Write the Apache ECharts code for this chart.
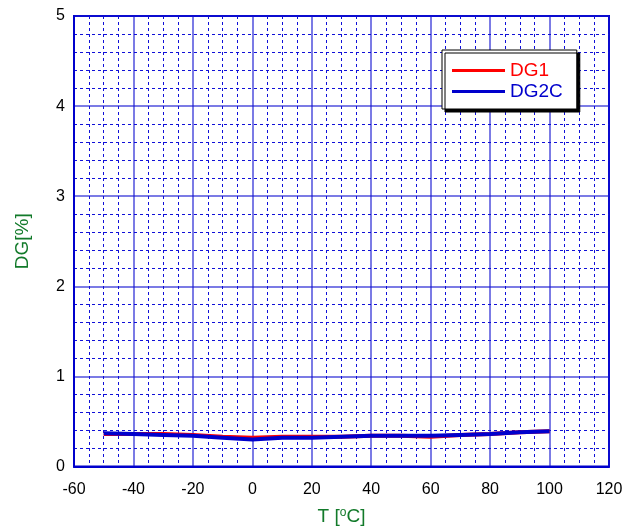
<!DOCTYPE html>
<html>
<head>
<meta charset="utf-8">
<script src="https://cdn.jsdelivr.net/npm/echarts@6/dist/echarts.min.js"></script>
<style>
html,body{margin:0;padding:0;background:#fff;}
#chart{width:628px;height:531px;}
</style>
</head>
<body>
<div id="chart"></div>
<script>
var temps = [-50, -40, -30, -20, -10, 0, 10, 20, 30, 40, 50, 60, 70, 80, 90, 100];
var dg1  = [0.36, 0.36, 0.36, 0.35, 0.33, 0.32, 0.33, 0.33, 0.33, 0.34, 0.34, 0.33, 0.35, 0.36, 0.38, 0.39];
var dg2c = [0.37, 0.36, 0.35, 0.34, 0.32, 0.30, 0.32, 0.32, 0.33, 0.34, 0.34, 0.34, 0.35, 0.36, 0.38, 0.39];
var seriesNames = ['DG1', 'DG2C'];

function pairs(xs, ys){ return xs.map(function(x,i){ return [x, ys[i]]; }); }

var font = 'Liberation Sans, Arial, sans-serif';
var majorColor = 'rgba(20,20,210,0.75)';
var minorColor = '#1010d8';

var chart = echarts.init(document.getElementById('chart'), null, {renderer:'canvas'});
chart.setOption({
  animation: false,
  backgroundColor: '#fff',
  grid: {left: 74, right: 19, top: 16, bottom: 62, show: true, borderColor: '#0000cc', borderWidth: 2, backgroundColor: '#fff'},
  legend: {
    left: 442, top: 50, orient: 'vertical',
    backgroundColor: '#fff', borderColor: '#000', borderWidth: 1,
    shadowColor: '#000', shadowOffsetX: 3, shadowOffsetY: 3, shadowBlur: 0,
    padding: [11, 14, 8, 10], itemGap: 2, itemWidth: 53, itemHeight: 3,
    textStyle: {fontFamily: font, fontSize: 19},
    data: [
      {name: seriesNames[0], icon: 'rect', textStyle: {color: '#ff0000'}},
      {name: seriesNames[1], icon: 'rect', textStyle: {color: '#0000cc'}}
    ]
  },
  xAxis: {
    type: 'value', min: -60, max: 120, interval: 20,
    name: 'T [{sup|o}C]', nameLocation: 'middle', nameGap: 40,
    nameTextStyle: {color: '#127a2a', fontFamily: font, fontSize: 19,
      rich: {sup: {fontSize: 12, color: '#127a2a', fontFamily: font, padding: [0, 0, 8, 0]}}},
    axisLine: {show: true, onZero: false, lineStyle: {color: '#0000cc', width: 2}},
    axisTick: {show: false},
    axisLabel: {color: '#000', fontFamily: font, fontSize: 16, margin: 15},
    splitLine: {show: true, lineStyle: {color: majorColor, width: 1.5, type: 'solid'}},
    minorTick: {show: false, splitNumber: 4},
    minorSplitLine: {show: true, lineStyle: {color: minorColor, width: 1, type: [3, 3]}}
  },
  yAxis: {
    type: 'value', min: 0, max: 5, interval: 1,
    name: 'DG[%]', nameLocation: 'middle', nameGap: 42, nameRotate: 90,
    nameTextStyle: {color: '#127a2a', fontFamily: font, fontSize: 19},
    axisLine: {show: true, onZero: false, lineStyle: {color: '#0000cc', width: 2}},
    axisTick: {show: false},
    axisLabel: {color: '#000', fontFamily: font, fontSize: 16, margin: 9},
    splitLine: {show: true, lineStyle: {color: majorColor, width: 1.5, type: 'solid'}},
    minorTick: {show: false, splitNumber: 5},
    minorSplitLine: {show: true, lineStyle: {color: minorColor, width: 1, type: [3, 3]}}
  },
  series: [
    {name: seriesNames[0], type: 'line', data: pairs(temps, dg1), showSymbol: false, symbol: 'none',
     lineStyle: {color: '#ff0000', width: 4}, itemStyle: {color: '#ff0000'}, z: 3},
    {name: seriesNames[1], type: 'line', data: pairs(temps, dg2c), showSymbol: false, symbol: 'none',
     lineStyle: {color: '#0000cc', width: 4}, itemStyle: {color: '#0000cc'}, z: 4}
  ]
});
</script>
</body>
</html>
